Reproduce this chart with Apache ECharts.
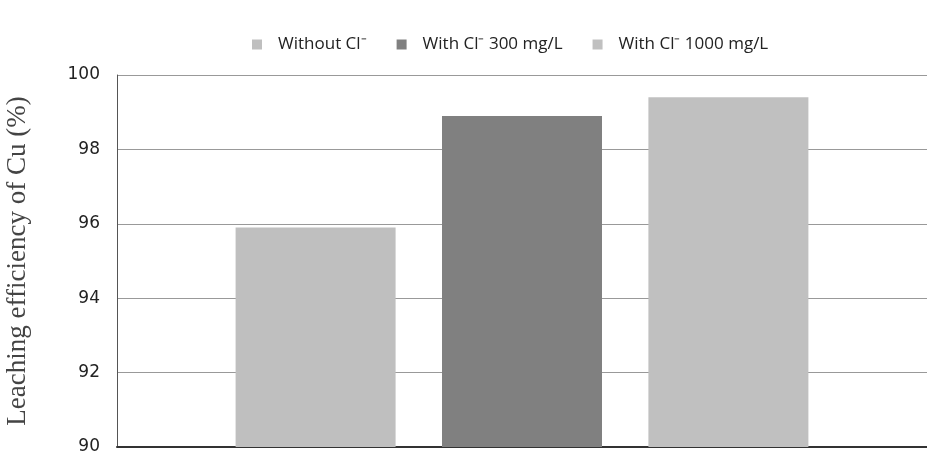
<!DOCTYPE html>
<html>
<head>
<meta charset="utf-8">
<script src="https://cdn.jsdelivr.net/npm/echarts@6/dist/echarts.min.js"></script>
<style>
  html, body { margin: 0; padding: 0; background: #fff; }
  #chart { width: 927px; height: 456px; }
</style>
</head>
<body>
<div id="chart"></div>
<script>
// 数据
var categories = [''];
var seriesNames = ['Without Cl\u207B', 'With Cl\u207B 300 mg/L', 'With Cl\u207B 1000 mg/L'];
var seriesValues = [[95.9], [98.9], [99.4]];
var seriesColors = ['#bfbfbf', '#808080', '#c0c0c0'];

var chart = echarts.init(document.getElementById('chart'));

var series = seriesNames.map(function (name, i) {
  return {
    type: 'bar',
    name: name,
    data: seriesValues[i],
    barWidth: 160,
    barGap: '29%',
    itemStyle: { color: seriesColors[i] }
  };
});

var option = {
  backgroundColor: '#fff',
  animation: false,
  legend: {
    top: 31,
    left: 247,
    itemWidth: 10,
    itemHeight: 10,
    itemGap: 30,
    icon: 'rect',
    textStyle: { fontFamily: 'Open Sans', fontSize: 17, color: '#222', padding: [0, 0, 0, 11] },
    data: seriesNames
  },
  grid: { left: 117, right: 0, top: 75, bottom: 9, outerBoundsMode: 'none' },
  xAxis: {
    type: 'category',
    data: categories,
    axisTick: { show: false },
    axisLabel: { show: false },
    axisLine: { lineStyle: { color: '#333', width: 2 } }
  },
  yAxis: {
    type: 'value',
    min: 90,
    max: 100,
    interval: 2,
    name: 'Leaching efficiency of Cu (%)',
    nameLocation: 'middle',
    nameGap: 86,
    nameTextStyle: { fontFamily: 'Liberation Serif', fontSize: 27, color: '#444' },
    axisLine: { show: true, lineStyle: { color: '#555', width: 1 } },
    axisTick: { show: false },
    axisLabel: { fontFamily: 'DejaVu Sans', fontSize: 17, color: '#222', margin: 17 },
    splitLine: { lineStyle: { color: '#999', width: 1 } }
  },
  series: series
};

chart.setOption(option);
</script>
</body>
</html>
